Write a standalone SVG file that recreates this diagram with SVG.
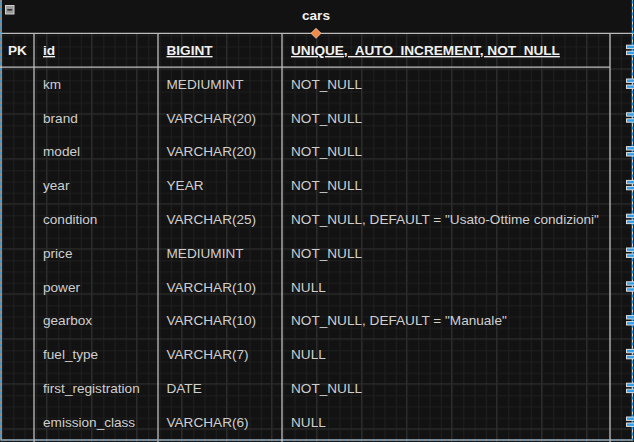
<svg xmlns="http://www.w3.org/2000/svg" width="634" height="442" viewBox="0 0 634 442">
<defs>
<pattern id="minor" x="1" y="23.3" width="11.25" height="11.25" patternUnits="userSpaceOnUse">
<path d="M0 0.5H11.25M0.5 0V11.25" fill="none" stroke="#1f1f1f" stroke-width="1"/>
</pattern>
<pattern id="major" x="1" y="23.3" width="45" height="45" patternUnits="userSpaceOnUse">
<rect width="45" height="45" fill="url(#minor)"/>
<path d="M0 0.5H45M0.5 0V45" fill="none" stroke="#2c2c2c" stroke-width="1"/>
</pattern>
<style>
.hd{font-family:"Liberation Sans",Arial,sans-serif;font-size:13.6px;font-weight:bold;fill:#f0f0f0;white-space:pre}
.u{text-decoration:underline}
.tx{font-family:"Liberation Sans",Arial,sans-serif;font-size:13.6px;fill:#cfcfcf;white-space:pre}
.ln{stroke:#bdbdbd;stroke-width:1.3;fill:none}
.hnd{fill:#3aa0e6;stroke:#dcdcdc;stroke-width:1}
</style>
</defs>
<rect width="634" height="442" fill="#121212"/>
<rect x="0" y="33.3" width="634" height="409" fill="url(#major)"/>
<g id="cars">
<text class="hd" x="316" y="19.6" text-anchor="middle">cars</text>
<rect x="5.5" y="5.5" width="8.5" height="8.5" fill="#9a9a9a" stroke="#d0d0d0" stroke-width="1"/>
<path d="M7.3 9.8H12.2" stroke="#333" stroke-width="1.6"/>
<path class="ln" d="M0 33.3H634M0 67.1H610M34 33.3V442M158 33.3V442M282 33.3V442M610 33.3V442"/>
<text class="hd" x="8" y="55">PK</text>
<text class="hd u" x="43" y="55">id</text>
<text class="hd u" x="166.5" y="55">BIGINT</text>
<text class="hd u" x="291" y="55">UNIQUE,  AUTO_INCREMENT, NOT_NULL</text>
<g id="rows">
<text class="tx" x="43" y="88.8">km</text><text class="tx" x="166.5" y="88.8">MEDIUMINT</text><text class="tx" x="291" y="88.8">NOT_NULL</text>
<text class="tx" x="43" y="122.6">brand</text><text class="tx" x="166.5" y="122.6">VARCHAR(20)</text><text class="tx" x="291" y="122.6">NOT_NULL</text>
<text class="tx" x="43" y="156.4">model</text><text class="tx" x="166.5" y="156.4">VARCHAR(20)</text><text class="tx" x="291" y="156.4">NOT_NULL</text>
<text class="tx" x="43" y="190.2">year</text><text class="tx" x="166.5" y="190.2">YEAR</text><text class="tx" x="291" y="190.2">NOT_NULL</text>
<text class="tx" x="43" y="224">condition</text><text class="tx" x="166.5" y="224">VARCHAR(25)</text><text class="tx" x="291" y="224">NOT_NULL, DEFAULT = "Usato-Ottime condizioni"</text>
<text class="tx" x="43" y="257.8">price</text><text class="tx" x="166.5" y="257.8">MEDIUMINT</text><text class="tx" x="291" y="257.8">NOT_NULL</text>
<text class="tx" x="43" y="291.6">power</text><text class="tx" x="166.5" y="291.6">VARCHAR(10)</text><text class="tx" x="291" y="291.6">NULL</text>
<text class="tx" x="43" y="325.4">gearbox</text><text class="tx" x="166.5" y="325.4">VARCHAR(10)</text><text class="tx" x="291" y="325.4">NOT_NULL, DEFAULT = "Manuale"</text>
<text class="tx" x="43" y="359.2">fuel_type</text><text class="tx" x="166.5" y="359.2">VARCHAR(7)</text><text class="tx" x="291" y="359.2">NULL</text>
<text class="tx" x="43" y="393">first_registration</text><text class="tx" x="166.5" y="393">DATE</text><text class="tx" x="291" y="393">NOT_NULL</text>
<text class="tx" x="43" y="426.8">emission_class</text><text class="tx" x="166.5" y="426.8">VARCHAR(6)</text><text class="tx" x="291" y="426.8">NULL</text>
</g>
</g>
<g id="selection">
<rect x="1" y="-4" width="631.5" height="444" fill="none" stroke="#d8d8d8" stroke-width="1.2"/>
<rect x="1" y="-4" width="631.5" height="444" fill="none" stroke="#2a9ce8" stroke-width="1.2" stroke-dasharray="3 3"/>
<path d="M316 28.3L321 33.3L316 38.3L311 33.3Z" fill="#f08a48" stroke="#f6c8a4" stroke-width="0.8"/>
<g id="handles">
<rect class="hnd" x="626.5" y="45.2" width="9" height="3.4"/><rect class="hnd" x="626.5" y="51.2" width="9" height="3.4"/>
<rect class="hnd" x="626.5" y="79" width="9" height="3.4"/><rect class="hnd" x="626.5" y="85" width="9" height="3.4"/>
<rect class="hnd" x="626.5" y="112.8" width="9" height="3.4"/><rect class="hnd" x="626.5" y="118.8" width="9" height="3.4"/>
<rect class="hnd" x="626.5" y="146.6" width="9" height="3.4"/><rect class="hnd" x="626.5" y="152.6" width="9" height="3.4"/>
<rect class="hnd" x="626.5" y="180.4" width="9" height="3.4"/><rect class="hnd" x="626.5" y="186.4" width="9" height="3.4"/>
<rect class="hnd" x="626.5" y="214.2" width="9" height="3.4"/><rect class="hnd" x="626.5" y="220.2" width="9" height="3.4"/>
<rect class="hnd" x="626.5" y="248" width="9" height="3.4"/><rect class="hnd" x="626.5" y="254" width="9" height="3.4"/>
<rect class="hnd" x="626.5" y="281.8" width="9" height="3.4"/><rect class="hnd" x="626.5" y="287.8" width="9" height="3.4"/>
<rect class="hnd" x="626.5" y="315.6" width="9" height="3.4"/><rect class="hnd" x="626.5" y="321.6" width="9" height="3.4"/>
<rect class="hnd" x="626.5" y="349.4" width="9" height="3.4"/><rect class="hnd" x="626.5" y="355.4" width="9" height="3.4"/>
<rect class="hnd" x="626.5" y="383.2" width="9" height="3.4"/><rect class="hnd" x="626.5" y="389.2" width="9" height="3.4"/>
<rect class="hnd" x="626.5" y="417" width="9" height="3.4"/><rect class="hnd" x="626.5" y="423" width="9" height="3.4"/>
</g>
</g>
<g id="connectors"/>
</svg>
